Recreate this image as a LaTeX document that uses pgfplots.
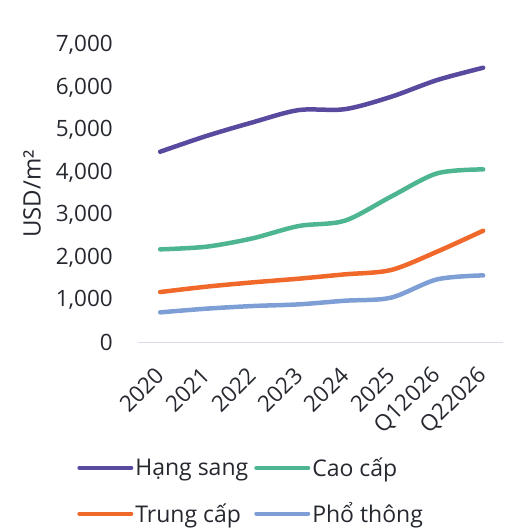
\documentclass[border=0pt]{standalone}
\usepackage{fontspec}
\setmainfont{Open Sans}
\usepackage{pgfplots}
\pgfplotsset{compat=1.18}
\definecolor{cSang}{RGB}{90,74,159}
\definecolor{cCao}{RGB}{77,182,144}
\definecolor{cTrung}{RGB}{240,105,42}
\definecolor{cPho}{RGB}{126,158,214}
\definecolor{cAxis}{RGB}{217,221,232}
\definecolor{cText}{RGB}{38,40,48}
\begin{document}
\begin{tikzpicture}[x=1pt,y=1pt]
\path[use as bounding box] (0,0) rectangle (525,529);
\begin{axis}[
  at={(138pt,186.3pt)}, anchor=south west,
  scale only axis, width=365pt, height=297.7pt,
  xmin=-0.48, xmax=7.43, ymin=0, ymax=7000,
  axis x line*=bottom, axis y line*=left,
  x axis line style={draw=cAxis, line width=1.5pt, -},
  y axis line style={draw=none},
  major tick length=0pt,
  xtick={0,1,2,3,4,5,6,7},
  xticklabels={2020,2021,2022,2023,2024,2025,Q12026,Q22026},
  ytick={0,1000,2000,3000,4000,5000,6000,7000},
  /pgf/number format/.cd, 1000 sep={,}, assume math mode=true, /pgfplots/.cd,
  tick label style={font=\fontsize{22.5}{26}\selectfont, text=cText},
  xticklabel style={yshift=-29pt, rotate=45, anchor=east, inner sep=0pt},
  yticklabel style={anchor=east, inner sep=0pt, xshift=-25pt},
  ylabel={USD/m²},
  ylabel style={at={(axis description cs:-0.29,0.5)}, anchor=center, font=\fontsize{24}{28}\selectfont, text=cText},
  legend columns=2,
  legend cell align=left,
  legend style={at={(axis description cs:-0.175,-0.372)}, anchor=north west, draw=none, fill=none,
    font=\fontsize{23}{27}\selectfont, text=cText, row sep=21pt,
    /tikz/every even column/.append style={column sep=4pt}},
  legend image code/.code={\draw[#1, line width=4pt, line cap=round] (0pt,0pt) -- (52pt,0pt);},
  every axis plot/.append style={line width=4.5pt, line cap=round, smooth},
  clip=false,
]
\addplot[cSang] coordinates {(0,4490) (1,4860) (2,5180) (3,5470) (4,5490) (5,5780) (6,6175) (7,6465)};
\addlegendentry{Hạng sang}
\addplot[cCao] coordinates {(0,2195) (1,2257) (2,2453) (3,2743) (4,2868) (5,3433) (6,3981) (7,4075)};
\addlegendentry{Cao cấp}
\addplot[cTrung] coordinates {(0,1191) (1,1317) (2,1418) (3,1505) (4,1607) (5,1708) (6,2140) (7,2633)};
\addlegendentry{Trung cấp}
\addplot[cPho] coordinates {(0,713) (1,800) (2,862) (3,901) (4,987) (5,1058) (6,1489) (7,1583)};
\addlegendentry{Phổ thông}
\end{axis}
\end{tikzpicture}
\end{document}
